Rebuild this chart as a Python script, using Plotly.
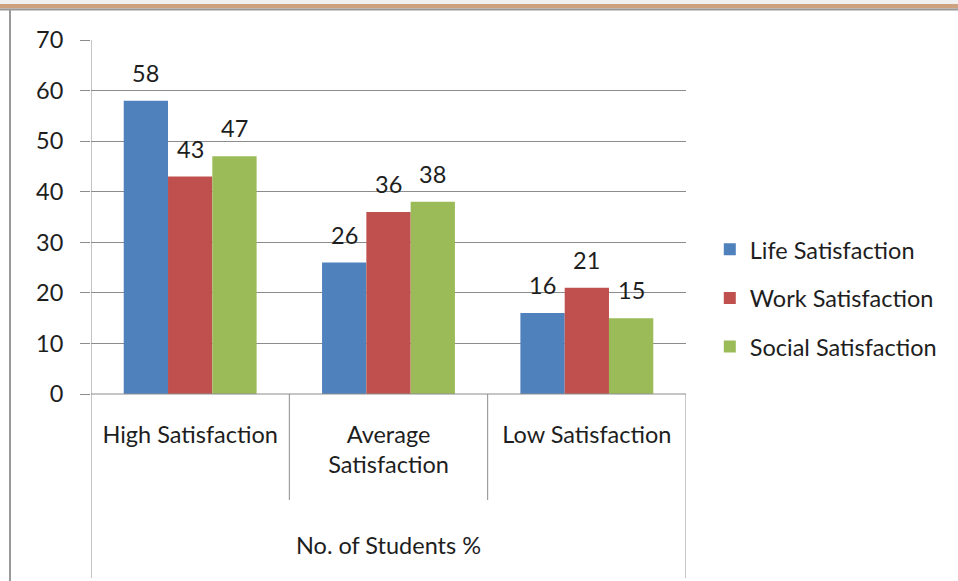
import plotly.graph_objects as go

categories = ["High Satisfaction", "Average<br>Satisfaction", "Low Satisfaction"]
series_names = ["Life Satisfaction", "Work Satisfaction", "Social Satisfaction"]
life = [58, 26, 16]
work = [43, 36, 21]
social = [47, 38, 15]
colors = ["#4F81BD", "#C0504D", "#9BBB59"]
y_ticks = [0, 10, 20, 30, 40, 50, 60, 70]
group_title = "No. of Students %"

FONT = "Lato"
FS = 23.5
TXT = "#1e1e1e"
BAR_PX = 44.2  # width of one bar in pixels (for label offsets)

fig = go.Figure()
all_series = [life, work, social]
for i, (name, vals) in enumerate(zip(series_names, all_series)):
    fig.add_trace(go.Bar(
        x=categories, y=vals, name=name, marker_color=colors[i],
        marker_line_width=0, legendgroup=name,
    ))
    for c, v in zip(categories, vals):
        fig.add_annotation(x=c, y=v, xref="x", yref="y", text=str(v),
                           showarrow=False, yanchor="bottom",
                           xshift=(i - 1) * BAR_PX, yshift=12,
                           font=dict(size=FS, family=FONT, color=TXT))

grid_col = "#8c8c8c"
fig.update_layout(
    width=958, height=581,
    margin=dict(l=91, r=272, t=40, b=187),
    plot_bgcolor="white", paper_bgcolor="white",
    barmode="group", bargap=0.33, bargroupgap=0,
    font=dict(family=FONT, size=FS, color=TXT),
    hovermode=False,
    legend=dict(x=1.040, y=0.271, xanchor="left", yanchor="middle",
                traceorder="grouped", tracegroupgap=15,
                font=dict(size=FS, family=FONT, color=TXT)),
    showlegend=True,
)
fig.update_yaxes(range=[0, 70], tickvals=y_ticks, showgrid=True, gridcolor=grid_col,
                 gridwidth=1, ticks="outside", ticklen=10, tickcolor=grid_col,
                 zeroline=False, showline=False, ticklabelstandoff=12,
                 tickfont=dict(size=FS, family=FONT, color=TXT))
fig.update_xaxes(range=[-0.5, 2.5], showgrid=False, showline=False, ticks="",
                 ticklabelstandoff=24, tickfont=dict(size=FS, family=FONT, color=TXT))

# axis frame / dividers
line = dict(color=grid_col, width=1)
def ypix(py):
    return (394 - py) / 354
fig.add_shape(type="line", xref="x", yref="paper", x0=-0.5, x1=-0.5, y0=1, y1=ypix(578), line=line)
fig.add_shape(type="line", xref="x", yref="paper", x0=2.5, x1=2.5, y0=0, y1=ypix(578), line=line)
fig.add_shape(type="line", xref="x", yref="paper", x0=0.5, x1=0.5, y0=0, y1=ypix(500), line=line)
fig.add_shape(type="line", xref="x", yref="paper", x0=1.5, x1=1.5, y0=0, y1=ypix(500), line=line)
fig.add_shape(type="line", xref="x", yref="paper", x0=-0.5, x1=2.5, y0=0, y1=0, line=line)

fig.add_annotation(text=group_title, xref="x", yref="paper", x=1, y=ypix(545),
                   yanchor="middle", showarrow=False,
                   font=dict(size=FS, family=FONT, color=TXT))

# page decorations
def xpix(px):
    return (px - 91) / 595
fig.add_shape(type="rect", xref="paper", yref="paper", x0=xpix(0), x1=xpix(958),
              y0=ypix(4), y1=ypix(0), fillcolor="#f0f0f0", line_width=0, layer="below")
fig.add_shape(type="rect", xref="paper", yref="paper", x0=xpix(0), x1=xpix(958),
              y0=ypix(8.5), y1=ypix(4), fillcolor="#CFA27F", line_width=0)
fig.add_shape(type="rect", xref="paper", yref="paper", x0=xpix(0), x1=xpix(958),
              y0=ypix(10.5), y1=ypix(8.5), fillcolor="#999999", line_width=0)
fig.add_shape(type="rect", xref="paper", yref="paper", x0=xpix(9), x1=xpix(11),
              y0=ypix(581), y1=ypix(10), fillcolor="#999999", line_width=0)

fig.write_html("out.html", config={"displayModeBar": False},
               post_script="document.body.style.margin='0px';document.body.style.overflow='hidden';")
